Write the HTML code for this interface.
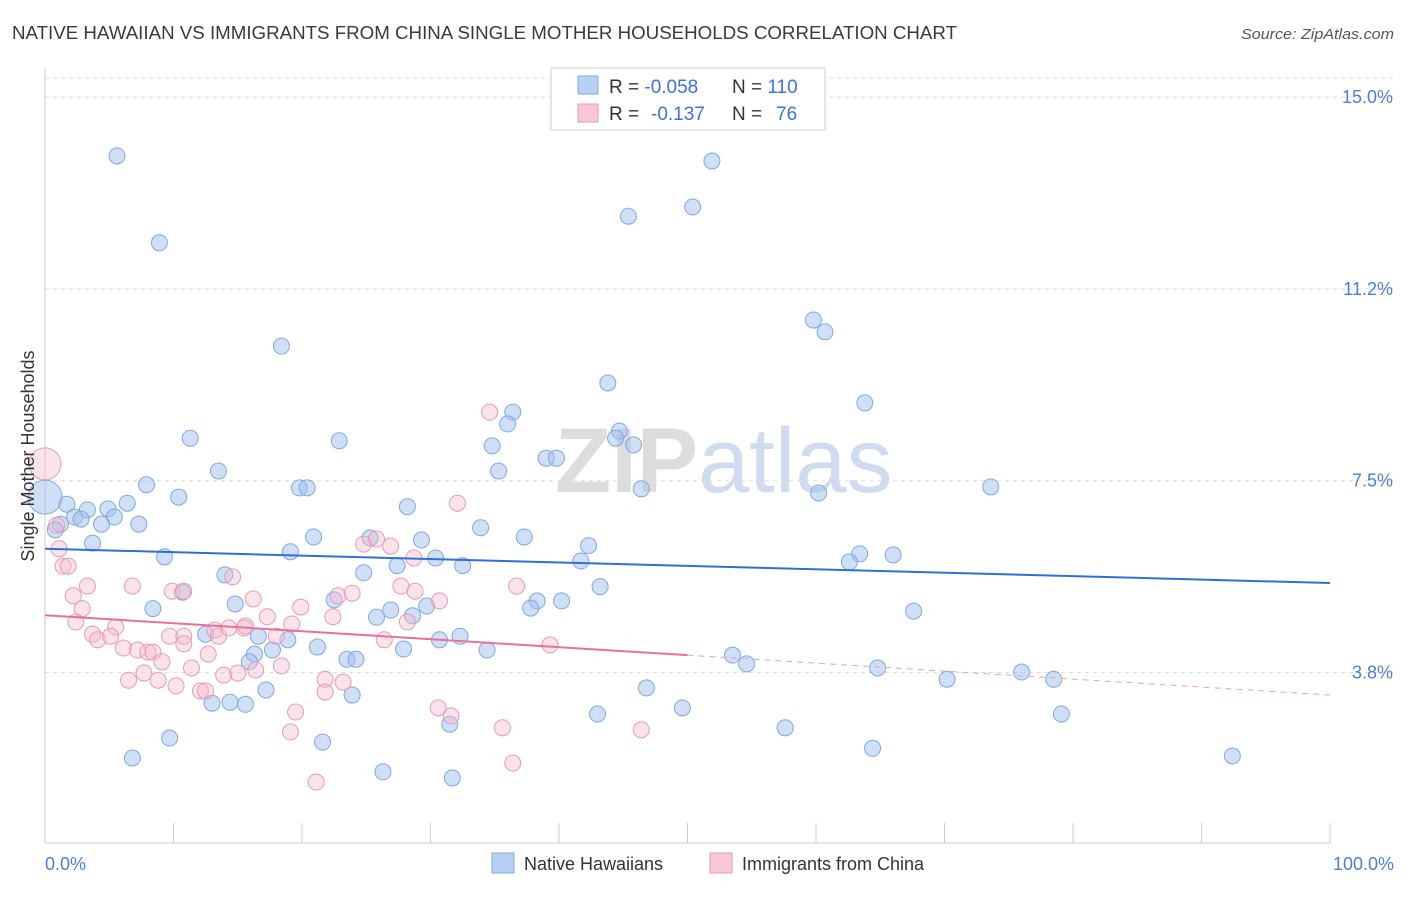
<!DOCTYPE html>
<html><head><meta charset="utf-8"><style>
body{margin:0;background:#fff;font-family:"Liberation Sans",sans-serif;}
svg text{font-family:"Liberation Sans",sans-serif;}
</style></head><body>
<svg id="chart" width="1406" height="892" viewBox="0 0 1406 892" xmlns="http://www.w3.org/2000/svg">
<text x="12" y="39" font-size="18" fill="#3a3a3a" textLength="945" lengthAdjust="spacingAndGlyphs">NATIVE HAWAIIAN VS IMMIGRANTS FROM CHINA SINGLE MOTHER HOUSEHOLDS CORRELATION CHART</text>
<text x="1241" y="39" font-size="15" fill="#555" font-style="italic" textLength="153" lengthAdjust="spacingAndGlyphs">Source: ZipAtlas.com</text>
<text x="555" y="492" font-size="92" fill="#ddd" font-family="Liberation Serif" font-weight="bold">ZIP<tspan fill="#cfdcef" font-family="Liberation Sans" font-weight="normal">atlas</tspan></text>
<g id="grid"></g>
<g id="axes"></g>
<g id="marks"></g>
<text transform="translate(34,456) rotate(-90)" font-size="18" fill="#333" text-anchor="middle">Single Mother Households</text>
<text x="45" y="870" font-size="18" fill="#4a7fd4">0.0%</text>
<text x="1394" y="870" font-size="18" fill="#4a7fd4" text-anchor="end">100.0%</text>
<g>
<rect x="551" y="68" width="274" height="62" fill="#fff" stroke="#ccc"/>
<rect x="578" y="76" width="20" height="18" fill="#b8d0f3" stroke="#7fa9e0"/>
<rect x="578" y="104" width="20" height="18" fill="#f8c6d4" stroke="#e89ab3"/>
<text x="609" y="93" font-size="19" fill="#333">R = <tspan fill="#3b74d0">-0.058</tspan><tspan x="732">N = </tspan><tspan fill="#3b74d0">110</tspan></text>
<text x="609" y="120" font-size="19" fill="#333">R = <tspan x="651" fill="#3b74d0">-0.137</tspan><tspan x="732">N = </tspan><tspan x="776" fill="#3b74d0">76</tspan></text>
</g>
<g>
<rect x="492" y="853" width="22" height="20" fill="#b8d0f3" stroke="#7fa9e0"/>
<text x="524" y="870" font-size="18" fill="#333">Native Hawaiians</text>
<rect x="710" y="853" width="22" height="20" fill="#f8c6d4" stroke="#e89ab3"/>
<text x="742" y="870" font-size="18" fill="#333">Immigrants from China</text>
</g>
</svg>
<script>
const yTicks=[15,11.25,7.5,3.75];
const yTickLabels=["15.0%","11.2%","7.5%","3.8%"];
const xTicks=[0,10,20,30,40,50,60,70,80,90,100];
const blueX=[5.6,8.9,18.4,45.4,50.4,51.9,59.8,60.7,63.8,43.8,36.4,36.0,44.7,44.4,45.8,34.8,39.0,39.8,22.9,11.3,13.5,35.3,46.4,60.2,73.6,7.9,10.4,6.4,19.8,20.4,1.7,3.3,2.3,2.8,4.9,5.4,4.4,7.3,1.2,0.8,3.7,28.2,33.9,37.3,20.9,25.3,29.3,42.3,19.1,9.3,30.4,41.7,63.4,66.0,62.6,27.4,32.5,14.0,24.8,43.2,10.7,22.5,38.3,40.2,8.4,14.8,26.9,29.7,37.8,67.6,25.8,28.6,12.5,16.6,18.9,30.7,32.3,21.2,34.4,27.9,17.7,16.3,15.9,23.5,24.2,53.5,54.6,64.8,76.0,70.2,78.5,17.2,46.8,23.9,13.0,14.4,15.6,49.6,43.0,79.1,31.5,57.6,9.7,21.6,64.4,6.8,92.4,26.3,31.7];
const blueY=[13.85,12.15,10.13,12.67,12.85,13.75,10.64,10.41,9.02,9.41,8.84,8.61,8.47,8.33,8.20,8.18,7.94,7.94,8.28,8.33,7.69,7.69,7.34,7.26,7.38,7.42,7.18,7.06,7.36,7.36,7.04,6.93,6.79,6.75,6.95,6.79,6.65,6.65,6.65,6.54,6.28,6.99,6.58,6.40,6.40,6.38,6.34,6.23,6.11,6.01,5.99,5.93,6.07,6.05,5.91,5.84,5.84,5.66,5.70,5.43,5.32,5.17,5.15,5.15,5.00,5.09,4.97,5.05,5.01,4.95,4.83,4.86,4.50,4.46,4.39,4.39,4.46,4.25,4.19,4.21,4.19,4.11,3.96,4.01,4.01,4.09,3.92,3.84,3.76,3.62,3.62,3.41,3.45,3.31,3.15,3.17,3.13,3.06,2.94,2.94,2.74,2.67,2.47,2.39,2.27,2.08,2.12,1.81,1.69];
const pinkX=[0.9,1.1,1.4,1.8,3.3,6.8,2.2,2.9,2.4,5.5,3.7,4.1,5.1,6.1,7.2,8.0,8.4,9.1,7.7,6.5,8.8,10.2,11.4,12.1,12.5,9.9,10.8,9.7,10.8,10.8,12.7,13.2,13.5,14.3,14.6,15.5,15.6,16.2,13.9,15.0,16.4,17.3,18.0,18.4,19.2,19.9,19.5,19.1,21.8,21.8,22.4,22.8,23.2,23.9,24.8,25.8,26.9,26.4,27.7,28.2,28.7,28.8,30.7,32.1,34.6,36.7,30.6,31.6,35.6,36.4,39.3,46.4,21.1];
const pinkY=[6.63,6.17,5.83,5.83,5.44,5.44,5.25,5.00,4.74,4.64,4.50,4.39,4.46,4.23,4.19,4.15,4.15,3.96,3.74,3.60,3.60,3.49,3.84,3.39,3.39,5.34,5.34,4.46,4.46,4.31,4.11,4.58,4.46,4.62,5.62,4.62,4.66,5.19,3.70,3.74,3.80,4.84,4.46,3.88,4.70,5.03,2.98,2.59,3.62,3.37,4.84,5.25,3.56,5.30,6.26,6.36,6.22,4.39,5.44,4.74,5.99,5.34,5.15,7.06,8.84,5.44,3.06,2.90,2.67,1.98,4.29,2.63,1.61];
const bigBlue=[0,7.18];
const bigPink=[0,7.83];
const blueTrend=[6.17,5.50];
const pinkTrend=[4.87,3.31];
const pinkSolidEnd=50;

const NS="http://www.w3.org/2000/svg";
const X0=45,X1=1330,YTOP=97,PXPER=51.16;
function xs(v){return X0+(X1-X0)*v/100;}
function ys(v){return YTOP+(15-v)*PXPER;}
function mk(tag,attrs,parent){const e=document.createElementNS(NS,tag);for(const k in attrs)e.setAttribute(k,attrs[k]);parent.appendChild(e);return e;}
const grid=document.getElementById('grid'),axes=document.getElementById('axes'),marks=document.getElementById('marks');
let g=mk('line',{x1:X0,x2:1394,y1:78,y2:78,stroke:'#ddd','stroke-dasharray':'4,4'},grid);


yTicks.forEach((t,i)=>{
 const l=mk('line',{x1:X0,x2:1394,y1:ys(t),y2:ys(t),stroke:'#ddd','stroke-dasharray':'4,4'},grid);
 
 
 const tx=mk('text',{x:1393,y:ys(t)+6,'font-size':18,fill:'#4a7fd4','text-anchor':'end'},grid);
 tx.textContent=yTickLabels[i];
 
 
});
let a=mk('line',{x1:X0,x2:X0,y1:68,y2:843,stroke:'#ccc'},axes);


a=mk('line',{x1:X0,x2:X1,y1:843,y2:843,stroke:'#ccc'},axes);


xTicks.forEach(t=>{
 const l=mk('line',{x1:xs(t),x2:xs(t),y1:823,y2:843,stroke:'#ccc'},axes);
 
 
});
function dot(x,y,r,fill,stroke,name){
 const c=mk('circle',{cx:xs(x),cy:ys(y),r:r,fill:fill,stroke:stroke,'stroke-width':1},marks);
 
 
}
const BF='rgba(160,192,238,0.5)',BS='#7fa9e0',PF='rgba(246,184,204,0.4)',PS='#e89ab3';
dot(bigBlue[0],bigBlue[1],17,BF,BS,'native-hawaiian-point-large');
dot(bigPink[0],bigPink[1],16,PF,PS,'china-immigrant-point-large');
blueX.forEach((x,i)=>dot(x,blueY[i],8,BF,BS,'native-hawaiian-point'));
pinkX.forEach((x,i)=>dot(x,pinkY[i],8,PF,PS,'china-immigrant-point'));
let t=mk('line',{x1:xs(0),x2:xs(100),y1:ys(blueTrend[0]),y2:ys(blueTrend[1]),stroke:'#2f6fd6','stroke-width':2},marks);


const pMid=pinkTrend[0]+(pinkTrend[1]-pinkTrend[0])*pinkSolidEnd/100;
t=mk('line',{x1:xs(0),x2:xs(pinkSolidEnd),y1:ys(pinkTrend[0]),y2:ys(pMid),stroke:'#e8709a','stroke-width':2},marks);


t=mk('line',{x1:xs(pinkSolidEnd),x2:xs(100),y1:ys(pMid),y2:ys(pinkTrend[1]),stroke:'#e8a0b8','stroke-width':1,'stroke-dasharray':'6,5'},marks);


</script>
</body></html>
